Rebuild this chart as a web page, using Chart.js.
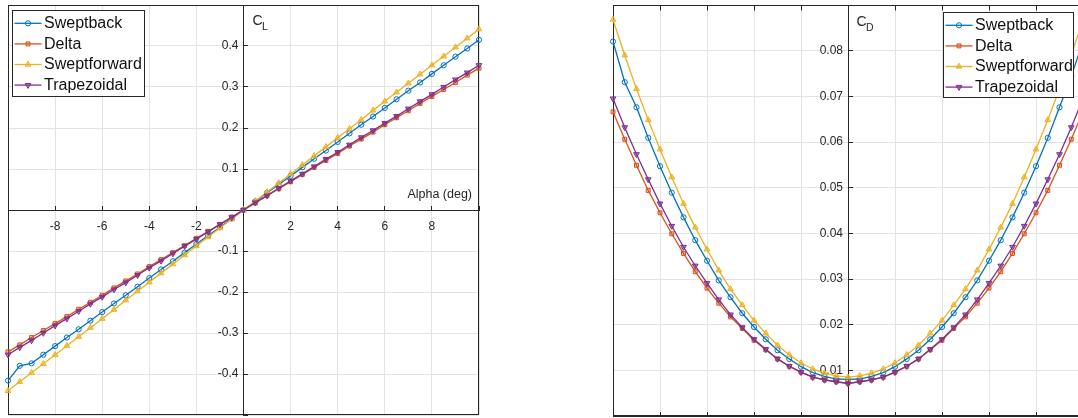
<!DOCTYPE html>
<html>
<head>
<meta charset="utf-8">
<script src="https://cdn.jsdelivr.net/npm/chart.js"></script>
<style>
  html, body { margin: 0; padding: 0; background: #fff; overflow: hidden; width: 1078px; height: 418px; }
  .panel { position: absolute; top: 0; }
  #liftPanel { left: 0; }
  #dragPanel { left: 600px; }
</style>
</head>
<body>
<div class="panel" id="liftPanel"><canvas id="lift" width="490" height="418"></canvas></div>
<div class="panel" id="dragPanel"><canvas id="drag" width="490" height="418"></canvas></div>
<script>
// Angle of attack (deg)
const alpha = [-10, -9.5, -9, -8.5, -8, -7.5, -7, -6.5, -6, -5.5, -5, -4.5, -4, -3.5, -3, -2.5, -2, -1.5, -1, -0.5, 0,
               0.5, 1, 1.5, 2, 2.5, 3, 3.5, 4, 4.5, 5, 5.5, 6, 6.5, 7, 7.5, 8, 8.5, 9, 9.5, 10];

const wingNames = ['Sweptback', 'Delta', 'Sweptforward', 'Trapezoidal'];

// Lift coefficient per wing
const clSweptback = [-0.416, -0.380, -0.374, -0.353, -0.332, -0.311, -0.291, -0.270, -0.249, -0.228, -0.208, -0.187, -0.166, -0.145, -0.125, -0.104, -0.083, -0.062, -0.042, -0.021, 0,
                     0.021, 0.042, 0.062, 0.083, 0.104, 0.125, 0.145, 0.166, 0.187, 0.208, 0.228, 0.249, 0.270, 0.291, 0.311, 0.332, 0.353, 0.374, 0.394, 0.415];
const clDelta = [-0.346, -0.329, -0.311, -0.294, -0.277, -0.260, -0.242, -0.225, -0.208, -0.190, -0.173, -0.156, -0.138, -0.121, -0.104, -0.087, -0.069, -0.052, -0.035, -0.017, 0,
                 0.017, 0.035, 0.052, 0.069, 0.087, 0.104, 0.121, 0.138, 0.156, 0.173, 0.190, 0.208, 0.225, 0.242, 0.260, 0.277, 0.294, 0.311, 0.329, 0.346];
const clSweptforward = [-0.441, -0.419, -0.397, -0.375, -0.353, -0.331, -0.309, -0.287, -0.265, -0.243, -0.220, -0.198, -0.176, -0.154, -0.132, -0.110, -0.088, -0.066, -0.044, -0.022, 0,
                        0.022, 0.044, 0.066, 0.088, 0.110, 0.132, 0.154, 0.176, 0.198, 0.220, 0.243, 0.265, 0.287, 0.309, 0.331, 0.353, 0.375, 0.397, 0.419, 0.441];
const clTrapezoidal = [-0.353, -0.335, -0.318, -0.300, -0.282, -0.265, -0.247, -0.229, -0.212, -0.194, -0.177, -0.159, -0.141, -0.124, -0.106, -0.088, -0.071, -0.053, -0.035, -0.018, 0,
                       0.018, 0.035, 0.053, 0.071, 0.088, 0.106, 0.124, 0.141, 0.159, 0.177, 0.194, 0.212, 0.229, 0.247, 0.265, 0.282, 0.300, 0.318, 0.335, 0.353];

// Drag coefficient per wing
const cdSweptback = [0.0820, 0.0731, 0.0676, 0.0609, 0.0547, 0.0489, 0.0435, 0.0385, 0.0340, 0.0297, 0.0260, 0.0225, 0.0195, 0.0168, 0.0144, 0.0125, 0.0108, 0.0095, 0.0087, 0.0081, 0.0080,
                     0.0081, 0.0087, 0.0095, 0.0108, 0.0125, 0.0144, 0.0168, 0.0195, 0.0225, 0.0260, 0.0297, 0.0340, 0.0385, 0.0435, 0.0489, 0.0547, 0.0609, 0.0676, 0.0744, 0.0820];
const cdDelta = [0.0666, 0.0606, 0.0549, 0.0494, 0.0445, 0.0399, 0.0356, 0.0316, 0.0280, 0.0247, 0.0217, 0.0192, 0.0166, 0.0145, 0.0125, 0.0109, 0.0096, 0.0085, 0.0079, 0.0075, 0.0072,
                 0.0075, 0.0079, 0.0085, 0.0096, 0.0109, 0.0125, 0.0145, 0.0166, 0.0192, 0.0217, 0.0247, 0.0280, 0.0316, 0.0356, 0.0399, 0.0445, 0.0494, 0.0549, 0.0606, 0.0666];
const cdSweptforward = [0.0868, 0.0790, 0.0716, 0.0648, 0.0584, 0.0523, 0.0465, 0.0413, 0.0365, 0.0319, 0.0278, 0.0243, 0.0209, 0.0181, 0.0155, 0.0134, 0.0116, 0.0103, 0.0094, 0.0088, 0.0085,
                        0.0088, 0.0094, 0.0103, 0.0116, 0.0134, 0.0155, 0.0181, 0.0209, 0.0243, 0.0278, 0.0319, 0.0365, 0.0413, 0.0465, 0.0523, 0.0584, 0.0648, 0.0716, 0.0790, 0.0868];
const cdTrapezoidal = [0.0695, 0.0632, 0.0573, 0.0518, 0.0465, 0.0416, 0.0370, 0.0329, 0.0291, 0.0255, 0.0222, 0.0194, 0.0168, 0.0146, 0.0125, 0.0109, 0.0096, 0.0085, 0.0079, 0.0075, 0.0071,
                       0.0075, 0.0079, 0.0085, 0.0096, 0.0109, 0.0125, 0.0146, 0.0168, 0.0194, 0.0222, 0.0255, 0.0291, 0.0329, 0.0370, 0.0416, 0.0465, 0.0518, 0.0573, 0.0632, 0.0695];

// Tick positions
const alphaTicks = [-10, -8, -6, -4, -2, 0, 2, 4, 6, 8, 10];
const clTicks = [-0.5, -0.4, -0.3, -0.2, -0.1, 0, 0.1, 0.2, 0.3, 0.4, 0.5];
const cdTicks = [0, 0.01, 0.02, 0.03, 0.04, 0.05, 0.06, 0.07, 0.08, 0.09];

const FONT = '"Liberation Sans", Arial, Helvetica, sans-serif';
const INK = '#262626';
const GRID = '#e3e3e3';

const wingStyle = {
  Sweptback:    { color: '#0072BD', fill: 'rgba(255,255,255,0)',   shape: 'circle',   radius: 2.6, rotation: 0,   order: 4 },
  Delta:        { color: '#D95319', fill: 'rgba(217,83,25,0.35)',  shape: 'rect',     radius: 2.8, rotation: 0,   order: 3 },
  Sweptforward: { color: '#EDB120', fill: 'rgba(237,177,32,0.55)', shape: 'triangle', radius: 3.3, rotation: 0,   order: 2 },
  Trapezoidal:  { color: '#7E2F8E', fill: 'rgba(126,47,142,0.55)', shape: 'triangle', radius: 3.3, rotation: 180, order: 1 }
};

function buildDatasets(seriesList) {
  return wingNames.map((name, k) => {
    const s = wingStyle[name];
    return {
      label: name,
      data: alpha.map((a, i) => ({ x: a, y: seriesList[k][i] })),
      borderColor: s.color,
      backgroundColor: s.fill,
      borderWidth: 1.3,
      pointStyle: s.shape,
      pointRadius: s.radius,
      pointRotation: s.rotation,
      pointBorderWidth: 1,
      pointBorderColor: s.color,
      pointBackgroundColor: s.fill,
      tension: 0,
      clip: false,
      order: s.order
    };
  });
}

function fixedTicks(values) {
  return scale => { scale.ticks = values.map(v => ({ value: v })); };
}

// Axes crossing inside the plot should not reserve any margin
function noMargins(scale) {
  scale.paddingLeft = 0;
  scale.paddingRight = 0;
  scale.paddingTop = 0;
  scale.paddingBottom = 0;
}

function drawMarker(ctx, s, x, y) {
  ctx.save();
  ctx.strokeStyle = s.color;
  ctx.fillStyle = s.fill;
  ctx.lineWidth = 1;
  if (Chart.helpers && Chart.helpers.drawPoint) {
    Chart.helpers.drawPoint(ctx, { pointStyle: s.shape, radius: s.radius, rotation: s.rotation, borderWidth: 1 }, x, y);
  } else {
    ctx.beginPath();
    ctx.arc(x, y, s.radius, 0, Math.PI * 2);
    ctx.fill();
    ctx.stroke();
  }
  ctx.restore();
}

// Axes frame, captions and boxed legend
const decor = {
  id: 'decor',
  beforeDraw(chart, args, o) {
    // keep y tick labels a small gap left of the origin axis
    const ys = chart.scales.y;
    const items = ys.getLabelItems();
    if (!items._shifted) {
      items.forEach(it => { it.options.translation[0] -= (o.yLabelGap || 0); });
      items._shifted = true;
    }
  },
  beforeDatasetsDraw(chart, args, o) {
    const { ctx, chartArea: a } = chart;
    ctx.save();
    ctx.strokeStyle = INK;
    ctx.lineWidth = 1;
    const l = Math.round(a.left) + 0.5, t = Math.round(a.top) + 0.5;
    const r = Math.round(a.right) - 0.5, b = Math.round(a.bottom) - 0.5;
    ctx.strokeRect(l, t, r - l, b - t);
    if (o.topTicks) {
      const xs = chart.scales.x;
      xs.ticks.forEach(tk => {
        const px = Math.round(xs.getPixelForValue(tk.value)) + 0.5;
        ctx.beginPath();
        ctx.moveTo(px, t);
        ctx.lineTo(px, t + 5);
        ctx.stroke();
      });
    }
    ctx.restore();
  },
  afterDatasetsDraw(chart, args, o) {
    const { ctx } = chart;
    ctx.save();
    ctx.fillStyle = INK;
    ctx.textBaseline = 'alphabetic';
    if (o.caption) {
      const c = o.caption;
      ctx.textAlign = 'left';
      ctx.font = '14px ' + FONT;
      ctx.fillText(c.main, c.x, c.y);
      const w = ctx.measureText(c.main).width;
      ctx.font = '10.5px ' + FONT;
      ctx.fillText(c.sub, c.x + w - 0.5, c.y + 4.5);
    }
    if (o.xTitle) {
      ctx.textAlign = 'right';
      ctx.font = '12.5px ' + FONT;
      ctx.fillText(o.xTitle.text, o.xTitle.x, o.xTitle.y);
    }
    if (o.legend) {
      const L = o.legend;
      ctx.fillStyle = '#ffffff';
      ctx.fillRect(L.x, L.y, L.w, L.h);
      ctx.strokeStyle = INK;
      ctx.lineWidth = 1;
      ctx.strokeRect(L.x, L.y, L.w, L.h);
      ctx.font = '16px ' + FONT;
      ctx.textAlign = 'left';
      ctx.textBaseline = 'middle';
      chart.data.datasets.forEach((ds, i) => {
        const s = wingStyle[ds.label];
        const y = L.y + 12.8 + i * 20.6;
        ctx.strokeStyle = s.color;
        ctx.lineWidth = 1.3;
        ctx.beginPath();
        ctx.moveTo(L.x + 2, y);
        ctx.lineTo(L.x + 29, y);
        ctx.stroke();
        drawMarker(ctx, s, L.x + 15.5, y);
        ctx.fillStyle = '#111111';
        ctx.fillText(ds.label, L.x + 31.5, y + 0.5);
      });
    }
    ctx.restore();
  }
};

const tickFont = { family: FONT, size: 12 };

function axisCommon(extra) {
  return Object.assign({
    type: 'linear',
    afterFit: noMargins,
    grid: { color: GRID, lineWidth: 1, drawTicks: true, tickLength: -5, tickColor: INK },
    border: { display: true, color: INK, width: 1 }
  }, extra);
}

// Lift coefficient chart
new Chart(document.getElementById('lift'), {
  type: 'line',
  data: { datasets: buildDatasets([clSweptback, clDelta, clSweptforward, clTrapezoidal]) },
  options: {
    responsive: false,
    animation: false,
    devicePixelRatio: 1,
    layout: { autoPadding: false, padding: { left: 8, top: 5, right: 11, bottom: 3 } },
    plugins: {
      legend: { display: false },
      tooltip: { enabled: false },
      decor: {
        yLabelGap: 5,
        caption: { main: 'C', sub: 'L', x: 252.5, y: 25 },
        xTitle: { text: 'Alpha (deg)', x: 472, y: 198 },
        legend: { x: 12.5, y: 10.5, w: 132, h: 86 }
      }
    },
    scales: {
      x: axisCommon({
        min: -10, max: 10,
        position: { y: 0 },
        afterBuildTicks: fixedTicks(alphaTicks),
        ticks: {
          font: tickFont, color: INK, padding: 14, maxRotation: 0, autoSkip: false,
          callback: v => (v === 0 || Math.abs(v) >= 10) ? '' : String(v)
        }
      }),
      y: axisCommon({
        min: -0.5, max: 0.5,
        position: { x: 0 },
        afterBuildTicks: fixedTicks(clTicks),
        ticks: {
          font: tickFont, color: INK, padding: 10, autoSkip: false,
          callback: v => (Math.abs(v) < 1e-9 || Math.abs(v) >= 0.5 - 1e-9) ? '' : String(Math.round(v * 10) / 10)
        }
      })
    }
  },
  plugins: [decor]
});

// Drag coefficient chart
new Chart(document.getElementById('drag'), {
  type: 'line',
  data: { datasets: buildDatasets([cdSweptback, cdDelta, cdSweptforward, cdTrapezoidal]) },
  options: {
    responsive: false,
    animation: false,
    devicePixelRatio: 1,
    layout: { autoPadding: false, padding: { left: 13, top: 5, right: 7, bottom: 2 } },
    plugins: {
      legend: { display: false },
      tooltip: { enabled: false },
      decor: {
        yLabelGap: 5,
        topTicks: true,
        caption: { main: 'C', sub: 'D', x: 256.5, y: 26 },
        legend: { x: 343.5, y: 12.5, w: 130, h: 85 }
      }
    },
    scales: {
      x: axisCommon({
        min: -10, max: 10,
        position: { y: 0 },
        afterBuildTicks: fixedTicks(alphaTicks),
        ticks: { display: false }
      }),
      y: axisCommon({
        min: 0, max: 0.09,
        position: { x: 0 },
        afterBuildTicks: fixedTicks(cdTicks),
        ticks: {
          font: tickFont, color: INK, padding: 10, autoSkip: false,
          callback: v => (v < 0.005 || v > 0.085) ? '' : v.toFixed(2)
        }
      })
    }
  },
  plugins: [decor]
});
</script>
</body>
</html>
